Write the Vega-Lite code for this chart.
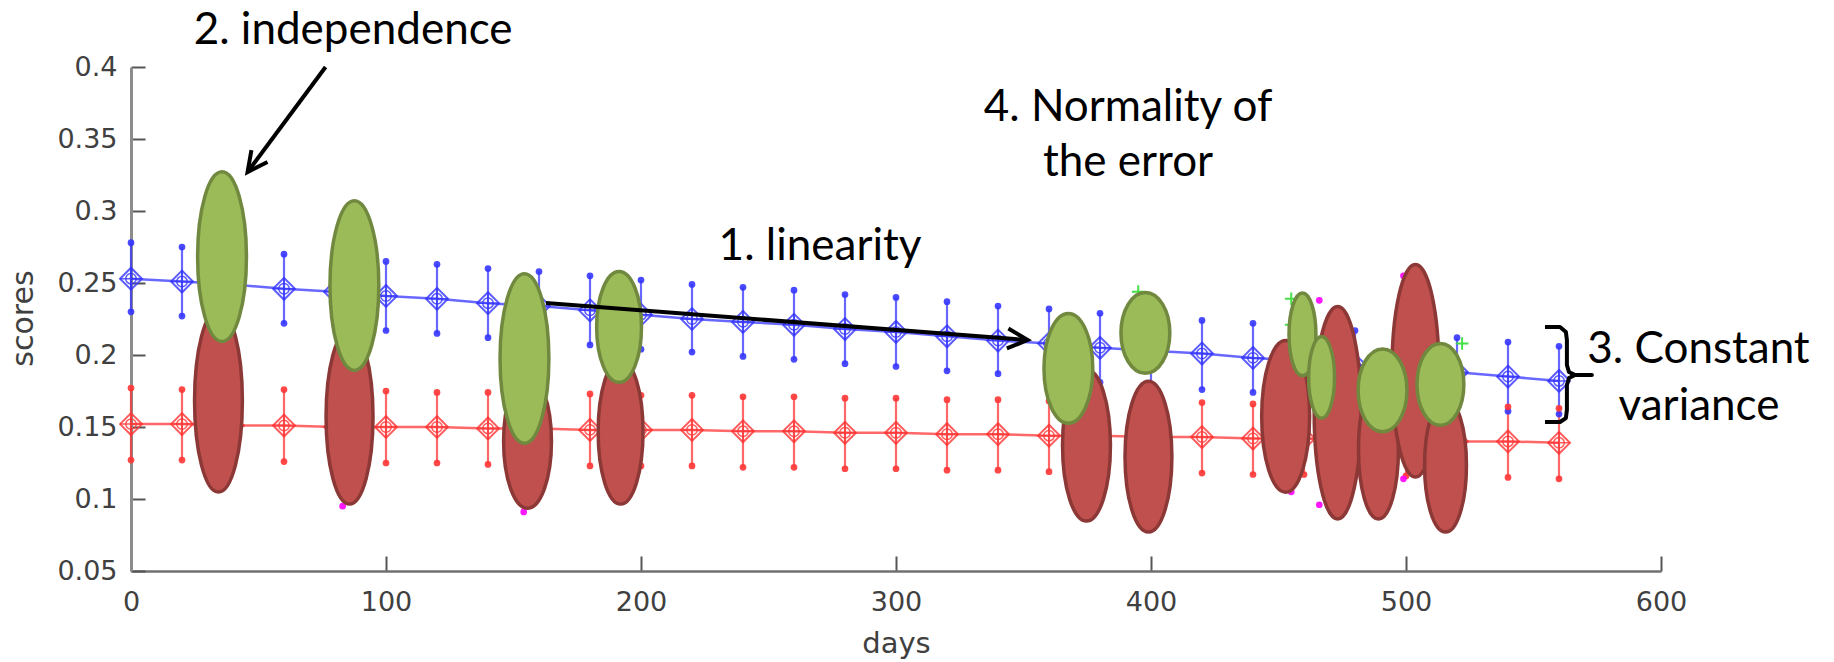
{
  "$schema": "https://vega.github.io/schema/vega-lite/v6.json",
  "width": 1530,
  "height": 504,
  "autosize": {"type": "none"},
  "padding": {"left": 131, "top": 67, "right": 173, "bottom": 91},
  "background": "white",
  "config": {
    "view": {"stroke": null},
    "axis": {
      "grid": false,
      "labelFont": "DejaVu Sans",
      "labelFontSize": 27,
      "labelColor": "#404040",
      "labelFlush": false,
      "titleFont": "DejaVu Sans",
      "titleFontSize": 29,
      "titleFontWeight": "normal",
      "titleColor": "#404040",
      "tickColor": "#555555",
      "tickWidth": 2,
      "tickSize": -15,
      "domainColor": "#8c8c8c",
      "domainWidth": 3
    }
  },
  "datasets": {
    "series": [
      {"day": 0, "series": "upper", "mean": 0.253, "lo": 0.230, "hi": 0.278},
      {"day": 20, "series": "upper", "mean": 0.251, "lo": 0.227, "hi": 0.275},
      {"day": 40, "series": "upper", "mean": 0.249, "lo": 0.225, "hi": 0.273},
      {"day": 60, "series": "upper", "mean": 0.246, "lo": 0.222, "hi": 0.270},
      {"day": 80, "series": "upper", "mean": 0.244, "lo": 0.220, "hi": 0.268},
      {"day": 100, "series": "upper", "mean": 0.241, "lo": 0.217, "hi": 0.265},
      {"day": 120, "series": "upper", "mean": 0.239, "lo": 0.215, "hi": 0.263},
      {"day": 140, "series": "upper", "mean": 0.236, "lo": 0.212, "hi": 0.260},
      {"day": 160, "series": "upper", "mean": 0.234, "lo": 0.210, "hi": 0.258},
      {"day": 180, "series": "upper", "mean": 0.231, "lo": 0.207, "hi": 0.255},
      {"day": 200, "series": "upper", "mean": 0.228, "lo": 0.204, "hi": 0.252},
      {"day": 220, "series": "upper", "mean": 0.225, "lo": 0.202, "hi": 0.249},
      {"day": 240, "series": "upper", "mean": 0.223, "lo": 0.199, "hi": 0.247},
      {"day": 260, "series": "upper", "mean": 0.221, "lo": 0.197, "hi": 0.245},
      {"day": 280, "series": "upper", "mean": 0.218, "lo": 0.194, "hi": 0.242},
      {"day": 300, "series": "upper", "mean": 0.216, "lo": 0.192, "hi": 0.240},
      {"day": 320, "series": "upper", "mean": 0.213, "lo": 0.189, "hi": 0.237},
      {"day": 340, "series": "upper", "mean": 0.210, "lo": 0.187, "hi": 0.234},
      {"day": 360, "series": "upper", "mean": 0.208, "lo": 0.184, "hi": 0.232},
      {"day": 380, "series": "upper", "mean": 0.205, "lo": 0.181, "hi": 0.229},
      {"day": 400, "series": "upper", "mean": 0.203, "lo": 0.179, "hi": 0.227},
      {"day": 420, "series": "upper", "mean": 0.201, "lo": 0.176, "hi": 0.224},
      {"day": 440, "series": "upper", "mean": 0.198, "lo": 0.174, "hi": 0.222},
      {"day": 460, "series": "upper", "mean": 0.196, "lo": 0.172, "hi": 0.219},
      {"day": 480, "series": "upper", "mean": 0.193, "lo": 0.169, "hi": 0.217},
      {"day": 500, "series": "upper", "mean": 0.190, "lo": 0.166, "hi": 0.214},
      {"day": 520, "series": "upper", "mean": 0.188, "lo": 0.164, "hi": 0.212},
      {"day": 540, "series": "upper", "mean": 0.185, "lo": 0.161, "hi": 0.209},
      {"day": 560, "series": "upper", "mean": 0.182, "lo": 0.159, "hi": 0.206},
      {"day": 0, "series": "lower", "mean": 0.152, "lo": 0.127, "hi": 0.177},
      {"day": 20, "series": "lower", "mean": 0.152, "lo": 0.127, "hi": 0.176},
      {"day": 40, "series": "lower", "mean": 0.151, "lo": 0.126, "hi": 0.176},
      {"day": 60, "series": "lower", "mean": 0.151, "lo": 0.126, "hi": 0.176},
      {"day": 80, "series": "lower", "mean": 0.150, "lo": 0.125, "hi": 0.175},
      {"day": 100, "series": "lower", "mean": 0.150, "lo": 0.125, "hi": 0.175},
      {"day": 120, "series": "lower", "mean": 0.150, "lo": 0.125, "hi": 0.174},
      {"day": 140, "series": "lower", "mean": 0.149, "lo": 0.124, "hi": 0.174},
      {"day": 160, "series": "lower", "mean": 0.149, "lo": 0.124, "hi": 0.173},
      {"day": 180, "series": "lower", "mean": 0.148, "lo": 0.123, "hi": 0.173},
      {"day": 200, "series": "lower", "mean": 0.148, "lo": 0.123, "hi": 0.172},
      {"day": 220, "series": "lower", "mean": 0.148, "lo": 0.123, "hi": 0.172},
      {"day": 240, "series": "lower", "mean": 0.147, "lo": 0.122, "hi": 0.171},
      {"day": 260, "series": "lower", "mean": 0.147, "lo": 0.122, "hi": 0.171},
      {"day": 280, "series": "lower", "mean": 0.146, "lo": 0.121, "hi": 0.170},
      {"day": 300, "series": "lower", "mean": 0.146, "lo": 0.121, "hi": 0.170},
      {"day": 320, "series": "lower", "mean": 0.145, "lo": 0.120, "hi": 0.169},
      {"day": 340, "series": "lower", "mean": 0.145, "lo": 0.120, "hi": 0.169},
      {"day": 360, "series": "lower", "mean": 0.144, "lo": 0.119, "hi": 0.168},
      {"day": 380, "series": "lower", "mean": 0.144, "lo": 0.119, "hi": 0.168},
      {"day": 400, "series": "lower", "mean": 0.143, "lo": 0.118, "hi": 0.167},
      {"day": 420, "series": "lower", "mean": 0.143, "lo": 0.118, "hi": 0.167},
      {"day": 440, "series": "lower", "mean": 0.142, "lo": 0.117, "hi": 0.166},
      {"day": 460, "series": "lower", "mean": 0.142, "lo": 0.117, "hi": 0.166},
      {"day": 480, "series": "lower", "mean": 0.141, "lo": 0.116, "hi": 0.165},
      {"day": 500, "series": "lower", "mean": 0.141, "lo": 0.116, "hi": 0.165},
      {"day": 520, "series": "lower", "mean": 0.140, "lo": 0.115, "hi": 0.164},
      {"day": 540, "series": "lower", "mean": 0.140, "lo": 0.115, "hi": 0.164},
      {"day": 560, "series": "lower", "mean": 0.139, "lo": 0.114, "hi": 0.163}
    ],
    "outliers": [
      {"day": 83, "score": 0.095, "marker": "dot"},
      {"day": 154, "score": 0.091, "marker": "dot"},
      {"day": 455, "score": 0.105, "marker": "dot"},
      {"day": 466, "score": 0.096, "marker": "dot"},
      {"day": 466, "score": 0.238, "marker": "dot"},
      {"day": 499, "score": 0.255, "marker": "dot"},
      {"day": 499, "score": 0.114, "marker": "dot"},
      {"day": 455, "score": 0.239, "marker": "plus"},
      {"day": 455, "score": 0.221, "marker": "plus"},
      {"day": 395, "score": 0.244, "marker": "plus"},
      {"day": 522, "score": 0.208, "marker": "plus"}
    ],
    "ellipses": [
      {"id": "R1", "group": "lower", "day": 34.3, "score": 0.1682, "spread": 0.1268},
      {"id": "R2", "group": "lower", "day": 85.7, "score": 0.1571, "spread": 0.1213},
      {"id": "R3", "group": "lower", "day": 155.5, "score": 0.1401, "spread": 0.0929},
      {"id": "R4", "group": "lower", "day": 192.0, "score": 0.1467, "spread": 0.1005},
      {"id": "R5", "group": "lower", "day": 374.7, "score": 0.1373, "spread": 0.1053},
      {"id": "R6", "group": "lower", "day": 399.0, "score": 0.1294, "spread": 0.1047},
      {"id": "R7", "group": "lower", "day": 452.8, "score": 0.1574, "spread": 0.1053},
      {"id": "R8", "group": "lower", "day": 473.2, "score": 0.1599, "spread": 0.1476},
      {"id": "R9", "group": "lower", "day": 489.2, "score": 0.1346, "spread": 0.0970},
      {"id": "R10", "group": "lower", "day": 503.7, "score": 0.1890, "spread": 0.1476},
      {"id": "R11", "group": "lower", "day": 515.5, "score": 0.1235, "spread": 0.0929},
      {"id": "G1", "group": "upper", "day": 35.7, "score": 0.2683, "spread": 0.1178},
      {"id": "G2", "group": "upper", "day": 87.6, "score": 0.2482, "spread": 0.1178},
      {"id": "G3", "group": "upper", "day": 154.3, "score": 0.1976, "spread": 0.1178},
      {"id": "G4", "group": "upper", "day": 191.4, "score": 0.2195, "spread": 0.0769},
      {"id": "G5", "group": "upper", "day": 367.6, "score": 0.1907, "spread": 0.0762},
      {"id": "G6", "group": "upper", "day": 397.8, "score": 0.2153, "spread": 0.0561},
      {"id": "G7", "group": "upper", "day": 459.4, "score": 0.2143, "spread": 0.0575},
      {"id": "G8", "group": "upper", "day": 466.9, "score": 0.1845, "spread": 0.0568},
      {"id": "G9", "group": "upper", "day": 490.8, "score": 0.1755, "spread": 0.0575},
      {"id": "G10", "group": "upper", "day": 513.5, "score": 0.1796, "spread": 0.0568}
    ],
    "arrows": [
      {"name": "linearity", "day": 162.7, "score": 0.2361, "day2": 351.6, "score2": 0.2104},
      {"name": "independence", "day": 76.3, "score": 0.4, "day2": 45.7, "score2": 0.327}
    ],
    "brace": [
      {"step": 1, "day": 554.5, "score": 0.2194},
      {"step": 2, "day": 560.4, "score": 0.2194},
      {"step": 3, "day": 562.7, "score": 0.2160},
      {"step": 4, "day": 563.1, "score": 0.2104},
      {"step": 5, "day": 563.1, "score": 0.1931},
      {"step": 6, "day": 563.9, "score": 0.1882},
      {"step": 7, "day": 566.3, "score": 0.1861},
      {"step": 8, "day": 572.9, "score": 0.1861},
      {"step": 9, "day": 566.3, "score": 0.1861},
      {"step": 10, "day": 563.9, "score": 0.1840},
      {"step": 11, "day": 563.1, "score": 0.1792},
      {"step": 12, "day": 563.1, "score": 0.1618},
      {"step": 13, "day": 562.7, "score": 0.1562},
      {"step": 14, "day": 560.4, "score": 0.1535},
      {"step": 15, "day": 554.5, "score": 0.1535}
    ],
    "notes": [
      {"note": "2. independence", "day": 87.1, "score": 0.416},
      {"note": "1. linearity", "day": 270.2, "score": 0.266},
      {"note": "4. Normality of", "day": 391.0, "score": 0.3625},
      {"note": "the error", "day": 391.0, "score": 0.3243},
      {"note": "3. Constant", "day": 614.7, "score": 0.1944},
      {"note": "variance", "day": 614.9, "score": 0.1549}
    ]
  },
  "encoding": {
    "x": {
      "field": "day",
      "type": "quantitative",
      "title": "days",
      "scale": {"domain": [0, 600], "nice": false, "zero": false},
      "axis": {
        "values": [0, 100, 200, 300, 400, 500, 600],
        "labelPadding": 33,
        "labelFlush": false,
        "domainColor": "#707070",
        "domainWidth": 2.5,
        "titleX": 765,
        "titleY": 72,
        "titleAlign": "center",
        "titleBaseline": "middle"
      }
    }
  },
  "layer": [
    {
      "data": {"name": "series"},
      "mark": {"type": "line", "strokeWidth": 2.5, "opacity": 0.75},
      "encoding": {
        "y": {
          "field": "mean",
          "type": "quantitative",
          "title": "scores",
          "scale": {"domain": [0.05, 0.4], "nice": false, "zero": false},
          "axis": {
            "values": [0.05, 0.1, 0.15, 0.2, 0.25, 0.3, 0.35, 0.4],
            "format": "~g",
            "labelPadding": 28,
            "labelFlush": false,
            "tickSize": -14,
            "titleFontSize": 30,
            "titleX": -108,
            "titleY": 251,
            "titleAlign": "center",
            "titleBaseline": "middle"
          }
        },
        "color": {
          "field": "series",
          "type": "nominal",
          "scale": {"domain": ["upper", "lower"], "range": ["#3535ff", "#ff3535"]},
          "legend": null
        }
      }
    },
    {
      "data": {"name": "series"},
      "mark": {"type": "rule", "strokeWidth": 2.2, "opacity": 0.75},
      "encoding": {
        "y": {"field": "lo", "type": "quantitative", "title": "scores", "scale": {"domain": [0.05, 0.4], "nice": false, "zero": false}},
        "y2": {"field": "hi"},
        "color": {"field": "series", "type": "nominal", "legend": null}
      }
    },
    {
      "data": {"name": "series"},
      "mark": {"type": "point", "filled": true, "size": 45, "opacity": 0.9},
      "encoding": {
        "y": {"field": "lo", "type": "quantitative", "title": "scores", "scale": {"domain": [0.05, 0.4], "nice": false, "zero": false}},
        "color": {"field": "series", "type": "nominal", "legend": null}
      }
    },
    {
      "data": {"name": "series"},
      "mark": {"type": "point", "filled": true, "size": 45, "opacity": 0.9},
      "encoding": {
        "y": {"field": "hi", "type": "quantitative", "title": "scores", "scale": {"domain": [0.05, 0.4], "nice": false, "zero": false}},
        "color": {"field": "series", "type": "nominal", "legend": null}
      }
    },
    {
      "data": {"name": "series"},
      "mark": {"type": "point", "shape": "diamond", "filled": false, "size": 480, "strokeWidth": 2, "opacity": 0.8},
      "encoding": {
        "y": {"field": "mean", "type": "quantitative", "title": "scores", "scale": {"domain": [0.05, 0.4], "nice": false, "zero": false}},
        "color": {"field": "series", "type": "nominal", "legend": null}
      }
    },
    {
      "data": {"name": "series"},
      "mark": {"type": "point", "shape": "circle", "filled": false, "size": 110, "strokeWidth": 1.5, "opacity": 0.8},
      "encoding": {
        "y": {"field": "mean", "type": "quantitative", "title": "scores", "scale": {"domain": [0.05, 0.4], "nice": false, "zero": false}},
        "color": {"field": "series", "type": "nominal", "legend": null}
      }
    },
    {
      "data": {"name": "series"},
      "mark": {"type": "point", "shape": "M-1,0L1,0M0,-1L0,1", "filled": false, "size": 480, "strokeWidth": 1.5, "opacity": 0.8},
      "encoding": {
        "y": {"field": "mean", "type": "quantitative", "title": "scores", "scale": {"domain": [0.05, 0.4], "nice": false, "zero": false}},
        "color": {"field": "series", "type": "nominal", "legend": null}
      }
    },
    {
      "data": {"name": "outliers"},
      "transform": [{"filter": "datum.marker === 'dot'"}],
      "mark": {"type": "point", "shape": "circle", "filled": true, "size": 45, "color": "#ff00ff", "opacity": 0.9},
      "encoding": {
        "y": {"field": "score", "type": "quantitative", "title": "scores", "scale": {"domain": [0.05, 0.4], "nice": false, "zero": false}}
      }
    },
    {
      "data": {"name": "outliers"},
      "transform": [{"filter": "datum.marker === 'plus'"}],
      "mark": {"type": "point", "shape": "M-1,0L1,0M0,-1L0,1", "filled": false, "size": 160, "strokeWidth": 2, "color": "#33dd33", "opacity": 0.9},
      "encoding": {
        "y": {"field": "score", "type": "quantitative", "title": "scores", "scale": {"domain": [0.05, 0.4], "nice": false, "zero": false}}
      }
    },
    {
      "data": {"name": "ellipses"},
      "mark": {"type": "point", "filled": true, "opacity": 1, "strokeWidth": 3.5, "strokeOpacity": 1, "fillOpacity": 1},
      "encoding": {
        "y": {"field": "score", "type": "quantitative", "title": "scores", "scale": {"domain": [0.05, 0.4], "nice": false, "zero": false}},
        "size": {
          "field": "spread",
          "type": "quantitative",
          "scale": {"type": "pow", "exponent": 2, "domain": [0, 1], "range": [0, 2073600]},
          "legend": null
        },
        "shape": {
          "field": "id",
          "type": "nominal",
          "legend": null,
          "scale": {
            "domain": ["R1", "R2", "R3", "R4", "R5", "R6", "R7", "R8", "R9", "R10", "R11", "G1", "G2", "G3", "G4", "G5", "G6", "G7", "G8", "G9", "G10"],
            "range": [
              "M0,-1C0.145,-1,0.262,-0.552,0.262,0C0.262,0.552,0.145,1,0,1C-0.145,1,-0.262,0.552,-0.262,0C-0.262,-0.552,-0.145,-1,0,-1Z",
              "M0,-1C0.149,-1,0.269,-0.552,0.269,0C0.269,0.552,0.149,1,0,1C-0.149,1,-0.269,0.552,-0.269,0C-0.269,-0.552,-0.149,-1,0,-1Z",
              "M0,-1C0.198,-1,0.358,-0.552,0.358,0C0.358,0.552,0.198,1,0,1C-0.198,1,-0.358,0.552,-0.358,0C-0.358,-0.552,-0.198,-1,0,-1Z",
              "M0,-1C0.171,-1,0.31,-0.552,0.31,0C0.31,0.552,0.171,1,0,1C-0.171,1,-0.31,0.552,-0.31,0C-0.31,-0.552,-0.171,-1,0,-1Z",
              "M0,-1C0.175,-1,0.316,-0.552,0.316,0C0.316,0.552,0.175,1,0,1C-0.175,1,-0.316,0.552,-0.316,0C-0.316,-0.552,-0.175,-1,0,-1Z",
              "M0,-1C0.172,-1,0.311,-0.552,0.311,0C0.311,0.552,0.172,1,0,1C-0.172,1,-0.311,0.552,-0.311,0C-0.311,-0.552,-0.172,-1,0,-1Z",
              "M0,-1C0.175,-1,0.316,-0.552,0.316,0C0.316,0.552,0.175,1,0,1C-0.175,1,-0.316,0.552,-0.316,0C-0.316,-0.552,-0.175,-1,0,-1Z",
              "M0,-1C0.122,-1,0.221,-0.552,0.221,0C0.221,0.552,0.122,1,0,1C-0.122,1,-0.221,0.552,-0.221,0C-0.221,-0.552,-0.122,-1,0,-1Z",
              "M0,-1C0.158,-1,0.286,-0.552,0.286,0C0.286,0.552,0.158,1,0,1C-0.158,1,-0.286,0.552,-0.286,0C-0.286,-0.552,-0.158,-1,0,-1Z",
              "M0,-1C0.122,-1,0.221,-0.552,0.221,0C0.221,0.552,0.122,1,0,1C-0.122,1,-0.221,0.552,-0.221,0C-0.221,-0.552,-0.122,-1,0,-1Z",
              "M0,-1C0.173,-1,0.313,-0.552,0.313,0C0.313,0.552,0.173,1,0,1C-0.173,1,-0.313,0.552,-0.313,0C-0.313,-0.552,-0.173,-1,0,-1Z",
              "M0,-1C0.159,-1,0.288,-0.552,0.288,0C0.288,0.552,0.159,1,0,1C-0.159,1,-0.288,0.552,-0.288,0C-0.288,-0.552,-0.159,-1,0,-1Z",
              "M0,-1C0.159,-1,0.288,-0.552,0.288,0C0.288,0.552,0.159,1,0,1C-0.159,1,-0.288,0.552,-0.288,0C-0.288,-0.552,-0.159,-1,0,-1Z",
              "M0,-1C0.159,-1,0.288,-0.552,0.288,0C0.288,0.552,0.159,1,0,1C-0.159,1,-0.288,0.552,-0.288,0C-0.288,-0.552,-0.159,-1,0,-1Z",
              "M0,-1C0.224,-1,0.405,-0.552,0.405,0C0.405,0.552,0.224,1,0,1C-0.224,1,-0.405,0.552,-0.405,0C-0.405,-0.552,-0.224,-1,0,-1Z",
              "M0,-1C0.246,-1,0.445,-0.552,0.445,0C0.445,0.552,0.246,1,0,1C-0.246,1,-0.445,0.552,-0.445,0C-0.445,-0.552,-0.246,-1,0,-1Z",
              "M0,-1C0.334,-1,0.605,-0.552,0.605,0C0.605,0.552,0.334,1,0,1C-0.334,1,-0.605,0.552,-0.605,0C-0.605,-0.552,-0.334,-1,0,-1Z",
              "M0,-1C0.18,-1,0.325,-0.552,0.325,0C0.325,0.552,0.18,1,0,1C-0.18,1,-0.325,0.552,-0.325,0C-0.325,-0.552,-0.18,-1,0,-1Z",
              "M0,-1C0.175,-1,0.317,-0.552,0.317,0C0.317,0.552,0.175,1,0,1C-0.175,1,-0.317,0.552,-0.317,0C-0.317,-0.552,-0.175,-1,0,-1Z",
              "M0,-1C0.326,-1,0.59,-0.552,0.59,0C0.59,0.552,0.326,1,0,1C-0.326,1,-0.59,0.552,-0.59,0C-0.59,-0.552,-0.326,-1,0,-1Z",
              "M0,-1C0.316,-1,0.573,-0.552,0.573,0C0.573,0.552,0.316,1,0,1C-0.316,1,-0.573,0.552,-0.573,0C-0.573,-0.552,-0.316,-1,0,-1Z"
            ]
          }
        },
        "fill": {
          "field": "group",
          "type": "nominal",
          "legend": null,
          "scale": {"domain": ["lower", "upper"], "range": ["#c0504d", "#9bbb59"]}
        },
        "stroke": {
          "field": "group",
          "type": "nominal",
          "legend": null,
          "scale": {"domain": ["lower", "upper"], "range": ["#8c3836", "#71893f"]}
        }
      }
    },
    {
      "data": {"name": "arrows"},
      "mark": {"type": "rule", "color": "black", "strokeWidth": 4},
      "encoding": {
        "y": {"field": "score", "type": "quantitative", "title": "scores", "scale": {"domain": [0.05, 0.4], "nice": false, "zero": false}},
        "x2": {"field": "day2"},
        "y2": {"field": "score2"}
      }
    },
    {
      "data": {"name": "arrows"},
      "transform": [{"filter": "datum.name === 'linearity'"}],
      "mark": {"type": "point", "shape": "M-0.5,1L0,0L0.5,1", "filled": false, "size": 1600, "strokeWidth": 4, "color": "black", "opacity": 1, "angle": 94.4},
      "encoding": {
        "x": {"field": "day2", "type": "quantitative"},
        "y": {"field": "score2", "type": "quantitative", "title": "scores", "scale": {"domain": [0.05, 0.4], "nice": false, "zero": false}}
      }
    },
    {
      "data": {"name": "arrows"},
      "transform": [{"filter": "datum.name === 'independence'"}],
      "mark": {"type": "point", "shape": "M-0.5,1L0,0L0.5,1", "filled": false, "size": 1600, "strokeWidth": 4, "color": "black", "opacity": 1, "angle": 216.6},
      "encoding": {
        "x": {"field": "day2", "type": "quantitative"},
        "y": {"field": "score2", "type": "quantitative", "title": "scores", "scale": {"domain": [0.05, 0.4], "nice": false, "zero": false}}
      }
    },
    {
      "data": {"name": "brace"},
      "mark": {"type": "line", "color": "black", "strokeWidth": 4, "strokeJoin": "round"},
      "encoding": {
        "y": {"field": "score", "type": "quantitative", "title": "scores", "scale": {"domain": [0.05, 0.4], "nice": false, "zero": false}},
        "order": {"field": "step", "type": "quantitative"}
      }
    },
    {
      "data": {"name": "notes"},
      "mark": {"type": "text", "font": "Lato", "fontSize": 44, "align": "center", "baseline": "alphabetic", "color": "black"},
      "encoding": {
        "y": {"field": "score", "type": "quantitative", "title": "scores", "scale": {"domain": [0.05, 0.4], "nice": false, "zero": false}},
        "text": {"field": "note", "type": "nominal"}
      }
    }
  ]
}
